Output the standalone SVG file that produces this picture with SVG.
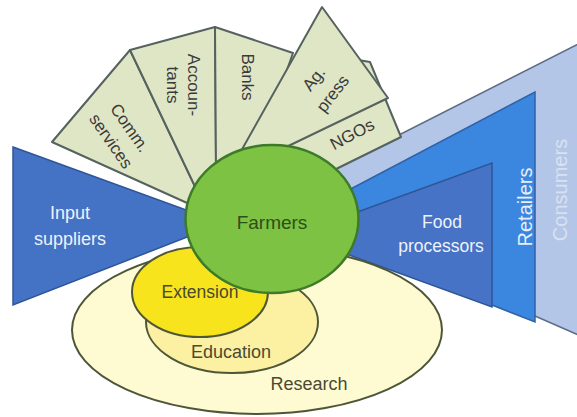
<svg xmlns="http://www.w3.org/2000/svg" width="577" height="417" viewBox="0 0 577 417">
<style>
text{font-family:"Liberation Sans",Arial,sans-serif;text-anchor:middle}
.tile{fill:#dfe6c6;stroke:#56625f;stroke-width:2;stroke-linejoin:round}
.tl{fill:#3a3a3a;font-size:17px}
.wt{fill:#eef2fa;font-size:18px}
.ell{stroke:#4e5638;stroke-width:2}
.et{fill:#4a4a33;font-size:18px}
</style>
<rect width="577" height="417" fill="#ffffff"/>
<g id="connectors"></g>
<g id="consumers">
<polygon points="330,170 590,38 590,340 535,316 340,250" fill="#b4c6e7" stroke="#5d6d86" stroke-width="1.5"/>
<text transform="translate(560,190) rotate(-90)" y="7" style="font-size:20px;fill:#d8e1f1">Consumers</text>
</g>
<g id="retailers">
<polygon points="345,192 535,92 535,322 350,249" fill="#3b86de" stroke="#2f62a8" stroke-width="1.5"/>
<text transform="translate(525,207) rotate(-90)" y="7" style="font-size:20px;fill:#e6eefa">Retailers</text>
</g>
<g id="food-processors">
<polygon points="330,222 492,163 492,307 330,248" fill="#4673c5" stroke="#2f5597" stroke-width="1.5"/>
<text class="wt" x="442" y="228" style="font-size:17.5px">Food</text>
<text class="wt" x="441" y="252" style="font-size:17.5px">processors</text>
</g>
<g id="comm-services">
<polygon class="tile" points="52,142 130,50 200,197 196,207"/>
<text class="tl" transform="translate(121,134) rotate(55)"><tspan x="0" y="-5">Comm.</tspan><tspan x="0" y="18">services</tspan></text>
</g>
<g id="accountants">
<polygon class="tile" points="130,50 215,27 216,170 200,197"/>
<text class="tl" transform="translate(183,85) rotate(90)"><tspan x="0" y="-5">Accoun-</tspan><tspan x="0" y="16">tants</tspan></text>
</g>
<g id="banks">
<polygon class="tile" points="215,27 293,53 255,160 216,170"/>
<text class="tl" transform="translate(248,77) rotate(90)" y="6">Banks</text>
</g>
<g id="ngos">
<polygon class="tile" points="300,50 370,62 401,137 330,172 280,160"/>
<text class="tl" transform="translate(352,134) rotate(-28)" y="6">NGOs</text>
</g>
<g id="ag-press">
<polygon class="tile" points="322,7 388,98 280,150 236,160"/>
<text class="tl" transform="translate(323,86) rotate(-52)"><tspan x="0" y="-6">Ag.</tspan><tspan x="0" y="18">press</tspan></text>
</g>
<g id="input-suppliers">
<polygon points="13,147 200,215 200,232 13,305" fill="#4472c4" stroke="#2f5597" stroke-width="1.5"/>
<text class="wt" x="70" y="219">Input</text>
<text class="wt" x="70" y="245">suppliers</text>
</g>
<g id="research">
<ellipse class="ell" cx="257" cy="330" rx="185" ry="84" fill="#fefbd3"/>
<text class="et" x="309" y="390">Research</text>
</g>
<g id="education">
<ellipse class="ell" cx="232" cy="322" rx="86" ry="51" fill="#fcf0a2"/>
<text class="et" x="231" y="358">Education</text>
</g>
<g id="extension">
<ellipse class="ell" cx="200" cy="292" rx="68" ry="45" fill="#f7e41c"/>
<text class="et" x="200" y="298" style="font-size:17.5px">Extension</text>
</g>
<g id="farmers">
<ellipse cx="272" cy="219" rx="86.5" ry="74" fill="#7dc242" stroke="#3d7a2a" stroke-width="2.5"/>
<text x="272" y="229" style="font-size:19px;fill:#2d4f1a">Farmers</text>
</g>
</svg>
